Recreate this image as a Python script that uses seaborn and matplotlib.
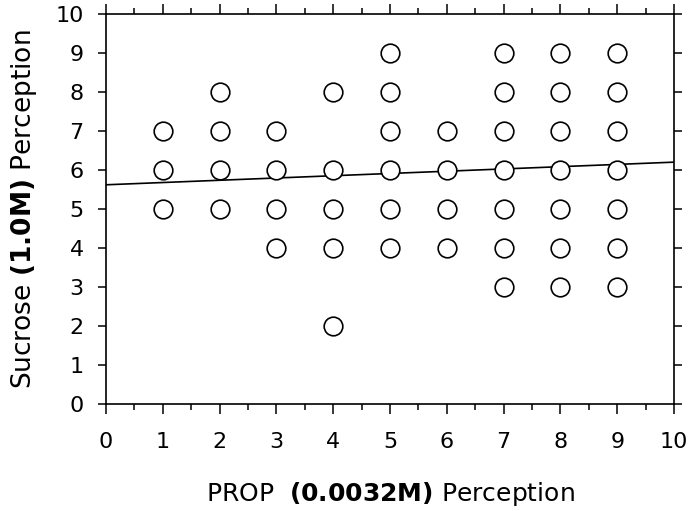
import numpy as np
import pandas as pd
import matplotlib
matplotlib.use("Agg")
import matplotlib.pyplot as plt
import seaborn as sns
from matplotlib.ticker import MultipleLocator

# PROP perception (x) and sucrose perception (y) ratings
prop = [1, 1, 1,
        2, 2, 2, 2,
        3, 3, 3, 3,
        4, 4, 4, 4, 4,
        5, 5, 5, 5, 5, 5,
        6, 6, 6, 6,
        7, 7, 7, 7, 7, 7, 7,
        8, 8, 8, 8, 8, 8, 8,
        9, 9, 9, 9, 9, 9, 9]
sucrose = [5, 6, 7,
           5, 6, 7, 8,
           4, 5, 6, 7,
           2, 4, 5, 6, 8,
           4, 5, 6, 7, 8, 9,
           4, 5, 6, 7,
           3, 4, 5, 6, 7, 8, 9,
           3, 4, 5, 6, 7, 8, 9,
           3, 4, 5, 6, 7, 8, 9]

# fitted regression line
fit_intercept = 5.62
fit_slope = 0.058

df = pd.DataFrame({"prop": prop, "sucrose": sucrose})

sns.set_style("white")
plt.rcParams["font.family"] = ["DejaVu Sans"]
plt.rcParams["mathtext.fontset"] = "dejavusans"
plt.rcParams["text.color"] = "black"
plt.rcParams["axes.labelcolor"] = "black"
plt.rcParams["xtick.color"] = "black"
plt.rcParams["ytick.color"] = "black"

fig = plt.figure(figsize=(6.92, 5.11), dpi=100)
ax = fig.add_axes([0.153, 0.209, 0.821, 0.764])

sns.scatterplot(data=df, x="prop", y="sucrose", ax=ax, marker="o", s=180,
                facecolor="white", edgecolor="black", linewidth=1.2, zorder=3)

xs = np.array([0, 10])
ax.plot(xs, fit_intercept + fit_slope * xs, color="black", linewidth=1.2, zorder=2)

ax.set_xlim(0, 10)
ax.set_ylim(0, 10)
ax.xaxis.set_major_locator(MultipleLocator(1))
ax.xaxis.set_minor_locator(MultipleLocator(0.5))
ax.yaxis.set_major_locator(MultipleLocator(1))

for side in ["top", "bottom", "left", "right"]:
    ax.spines[side].set_visible(True)
    ax.spines[side].set_color("black")
    ax.spines[side].set_linewidth(1.2)

ax.tick_params(axis="x", which="both", direction="out", top=True, bottom=True,
               labelsize=16, color="black", labelcolor="black", width=1.1)
ax.tick_params(axis="x", which="major", length=7, pad=13)
ax.tick_params(axis="x", which="minor", length=4)
ax.tick_params(axis="y", which="major", direction="out", left=True, right=True,
               labelsize=16, length=6, pad=10, color="black", labelcolor="black",
               width=1.1)

ax.set_xlabel(r"PROP  $\bf{(0.0032M)}$ Perception", fontsize=18, labelpad=20,
              color="black")
ax.set_ylabel(r"Sucrose $\bf{(1.0M)}$ Perception", fontsize=19, labelpad=12,
              color="black")

fig.savefig("out.png", dpi=100)
plt.close(fig)
